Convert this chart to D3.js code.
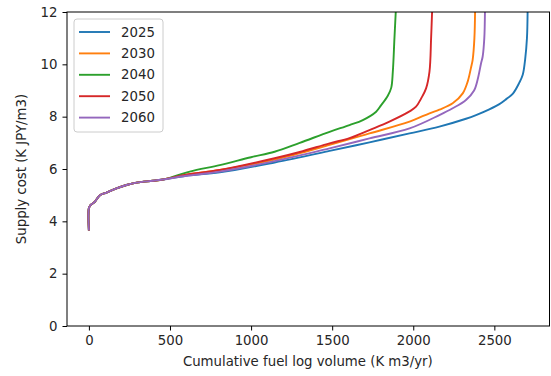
<!DOCTYPE html>
<html>
<head>
<meta charset="utf-8">
<script src="https://cdn.jsdelivr.net/npm/d3@7"></script>
<style>
  body { margin: 0; background: #fff; }
  svg { display: block; font-family: "DejaVu Sans", sans-serif; }
</style>
</head>
<body>
<svg id="chart" width="551" height="376"></svg>
<script>
// shared low-cost part of every curve
const baseX = [0, 0, 10, 37, 68, 109, 170, 232, 294, 396, 458];
const baseY = [3.65, 4.5, 4.62, 4.75, 5.0, 5.1, 5.26, 5.39, 5.48, 5.55, 5.6];

const x2025 = [600, 807, 1145, 1484, 1730, 1977, 2161, 2325, 2387, 2469, 2531, 2575, 2613, 2654, 2675, 2690, 2701, 2705];
const y2025 = [5.74, 5.87, 6.25, 6.69, 7.02, 7.36, 7.62, 7.92, 8.06, 8.28, 8.48, 8.68, 8.87, 9.3, 9.6, 10.2, 11.0, 12];

const x2030 = [600, 807, 1145, 1484, 1730, 1977, 2100, 2161, 2243, 2305, 2336, 2357, 2366, 2377, 2381];
const y2030 = [5.78, 5.96, 6.36, 6.92, 7.36, 7.81, 8.13, 8.27, 8.51, 8.89, 9.35, 9.9, 10.16, 11.0, 12];

const x2040 = [480, 622, 807, 1000, 1145, 1300, 1484, 1607, 1689, 1771, 1800, 1843, 1864, 1874, 1884, 1892];
const y2040 = [5.63, 5.9, 6.15, 6.45, 6.66, 7.0, 7.42, 7.68, 7.87, 8.19, 8.42, 8.8, 9.1, 9.72, 11.0, 12];

const x2050 = [600, 807, 1145, 1300, 1484, 1607, 1730, 1853, 1977, 2017, 2049, 2079, 2100, 2110, 2116];
const y2050 = [5.78, 5.96, 6.41, 6.65, 6.98, 7.18, 7.49, 7.81, 8.2, 8.38, 8.7, 9.08, 9.72, 11.0, 12];

const x2060 = [600, 807, 1145, 1484, 1730, 1977, 2161, 2243, 2325, 2375, 2400, 2418, 2428, 2438, 2442];
const y2060 = [5.74, 5.9, 6.3, 6.79, 7.17, 7.55, 8.06, 8.32, 8.64, 9.0, 9.5, 10.04, 10.3, 11.0, 12];

const years = ["2025", "2030", "2040", "2050", "2060"];
const colors = ["#1f77b4", "#ff7f0e", "#2ca02c", "#d62728", "#9467bd"];
const xTicks = [0, 500, 1000, 1500, 2000, 2500];
const yTicks = [0, 2, 4, 6, 8, 10, 12];

const tails = [[x2025, y2025], [x2030, y2030], [x2040, y2040], [x2050, y2050], [x2060, y2060]];
const series = tails.map(([xs, ys], i) => ({
  name: years[i],
  color: colors[i],
  points: baseX.map((v, j) => [v, baseY[j]]).concat(xs.map((v, j) => [v, ys[j]]))
}));

const margin = { top: 12, right: 1.5, bottom: 50, left: 67 };
const W = 551, H = 376;
const width = W - margin.left - margin.right;
const height = H - margin.top - margin.bottom;
const fontSize = "13.3px";

const svg = d3.select("#chart");
const g = svg.append("g").attr("transform", `translate(${margin.left},${margin.top})`);

const xScale = d3.scaleLinear().domain([-135, 2840]).range([0, width]);
const yScale = d3.scaleLinear().domain([0, 12]).range([height, 0]);

g.append("clipPath").attr("id", "clip")
  .append("rect").attr("width", width).attr("height", height);

const line = d3.line()
  .x(d => xScale(d[0]))
  .y(d => yScale(d[1]))
  .curve(d3.curveCatmullRom.alpha(0.5));

g.append("g").attr("clip-path", "url(#clip)")
  .selectAll("path")
  .data(series)
  .join("path")
  .attr("d", d => line(d.points))
  .attr("fill", "none")
  .attr("stroke", d => d.color)
  .attr("stroke-width", 1.9);

// axes
const xAxis = g.append("g")
  .attr("transform", `translate(0,${height})`)
  .call(d3.axisBottom(xScale).tickValues(xTicks).tickSize(4.5).tickPadding(5).tickFormat(d3.format("d")));
const yAxis = g.append("g")
  .call(d3.axisLeft(yScale).tickValues(yTicks).tickSize(4.5).tickPadding(5).tickFormat(d3.format("d")));

[xAxis, yAxis].forEach(a => {
  a.select(".domain").remove();
  a.selectAll("line").attr("stroke", "#000").attr("stroke-width", 1);
  a.selectAll("text").attr("fill", "#262626").style("font-size", fontSize).style("font-family", "DejaVu Sans");
});

// frame
g.append("rect")
  .attr("width", width).attr("height", height)
  .attr("fill", "none").attr("stroke", "#000").attr("stroke-width", 1);

// axis labels
svg.append("text")
  .attr("x", margin.left + xScale(1350)).attr("y", 366)
  .attr("text-anchor", "middle")
  .attr("fill", "#262626").style("font-size", fontSize)
  .text("Cumulative fuel log volume (K m3/yr)");

svg.append("text")
  .attr("transform", `translate(26,${margin.top + height / 2}) rotate(-90)`)
  .attr("text-anchor", "middle")
  .attr("fill", "#262626").style("font-size", fontSize)
  .text("Supply cost (K JPY/m3)");

// legend
const legend = g.append("g").attr("transform", "translate(7,7)");
legend.append("rect")
  .attr("width", 89).attr("height", 113).attr("rx", 3)
  .attr("fill", "#fff").attr("fill-opacity", 0.8)
  .attr("stroke", "#ccc").attr("stroke-width", 1);
const items = legend.selectAll("g.item").data(series).join("g")
  .attr("class", "item")
  .attr("transform", (d, i) => `translate(0,${13 + i * 21.4})`);
items.append("line")
  .attr("x1", 5).attr("x2", 36)
  .attr("stroke", d => d.color).attr("stroke-width", 1.9);
items.append("text")
  .attr("x", 47).attr("dy", "0.35em")
  .attr("fill", "#262626").style("font-size", fontSize)
  .text(d => d.name);
</script>
</body>
</html>
